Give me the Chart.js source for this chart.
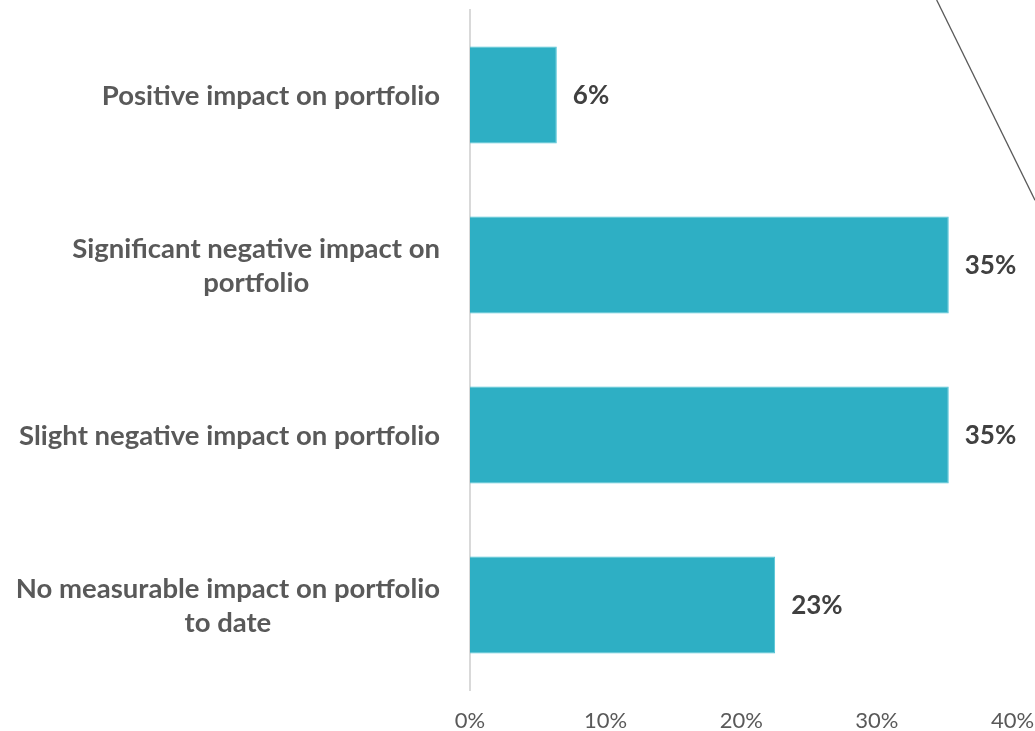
<!DOCTYPE html>
<html>
<head>
<meta charset="utf-8">
<script src="https://cdn.jsdelivr.net/npm/chart.js@4"></script>
<style>
  html, body { margin: 0; padding: 0; background: #ffffff; }
  #wrap { width: 1035px; height: 731px; position: relative; }
</style>
</head>
<body>
<div id="wrap"><canvas id="c"></canvas></div>
<script>
const categories = [
  ["Positive impact on portfolio"],
  ["Significant negative impact on", "portfolio"],
  ["Slight negative impact on portfolio"],
  ["No measurable impact on portfolio", "to date"]
];
const values = [6.4, 35.3, 35.3, 22.5];
const valueLabels = ["6%", "35%", "35%", "23%"];
const xTicks = [0, 10, 20, 30, 40];

const FONT = "Lato, 'Open Sans', sans-serif";

const categoryLabelPlugin = {
  id: 'categoryLabels',
  afterDraw(chart) {
    const ctx = chart.ctx;
    const yScale = chart.scales.y;
    ctx.save();
    ctx.font = "bold 27.5px " + FONT;
    ctx.fillStyle = "#595959";
    ctx.textBaseline = "middle";
    ctx.textAlign = "center";
    const rightEdge = chart.chartArea.left - 30;
    const lineH = 34;
    categories.forEach((lines, i) => {
      const yc = yScale.getPixelForValue(i) + 1;
      let maxW = 0;
      lines.forEach(l => { maxW = Math.max(maxW, ctx.measureText(l).width); });
      const xc = rightEdge - maxW / 2;
      const y0 = yc - (lines.length - 1) * lineH / 2;
      lines.forEach((l, j) => ctx.fillText(l, xc, y0 + j * lineH));
    });
    ctx.restore();
  }
};

const valueLabelPlugin = {
  id: 'valueLabels',
  afterDatasetsDraw(chart) {
    const ctx = chart.ctx;
    const meta = chart.getDatasetMeta(0);
    ctx.save();
    ctx.font = "bold 26px " + FONT;
    ctx.fillStyle = "#404040";
    ctx.textBaseline = "middle";
    ctx.textAlign = "left";
    meta.data.forEach((bar, i) => {
      ctx.fillText(valueLabels[i], bar.x + 16, bar.y + 1);
    });
    ctx.restore();
  }
};

const decoLinePlugin = {
  id: 'decoLine',
  afterDraw(chart) {
    const ctx = chart.ctx;
    const w = chart.width, h = chart.height;
    ctx.save();
    ctx.strokeStyle = "#595959";
    ctx.lineWidth = 1.3;
    ctx.beginPath();
    ctx.moveTo(w * 0.905, 0);
    ctx.lineTo(w, h * 0.274);
    ctx.stroke();
    ctx.restore();
  }
};

new Chart(document.getElementById('c'), {
  type: 'bar',
  data: {
    labels: categories.map(c => c.join(' ')),
    datasets: [{
      data: values,
      backgroundColor: '#2eafc4',
      borderColor: '#4fc3d6',
      borderWidth: 1,
      borderSkipped: 'start',
      barPercentage: 0.57,
      categoryPercentage: 1.0
    }]
  },
  options: {
    indexAxis: 'y',
    responsive: true,
    maintainAspectRatio: false,
    animation: false,
    layout: { padding: { left: 470, right: 22.5, top: 10, bottom: 0 } },
    plugins: { legend: { display: false }, tooltip: { enabled: false } },
    scales: {
      x: {
        min: 0, max: 40,
        afterBuildTicks(axis) { axis.ticks = xTicks.map(v => ({ value: v })); },
        afterFit(scale) { scale.height = 41; scale.paddingLeft = 0; scale.paddingRight = 0; },
        grid: { display: false },
        border: { display: false },
        ticks: {
          callback: v => v + '%',
          color: '#595959',
          font: { family: FONT, size: 22 },
          padding: 10,
          maxRotation: 0
        }
      },
      y: {
        afterFit(scale) { scale.width = 0; },
        grid: { display: false },
        border: { display: true, color: '#d9d9d9', width: 2 },
        ticks: { display: false }
      }
    }
  },
  plugins: [categoryLabelPlugin, valueLabelPlugin, decoLinePlugin]
});
</script>
</body>
</html>
